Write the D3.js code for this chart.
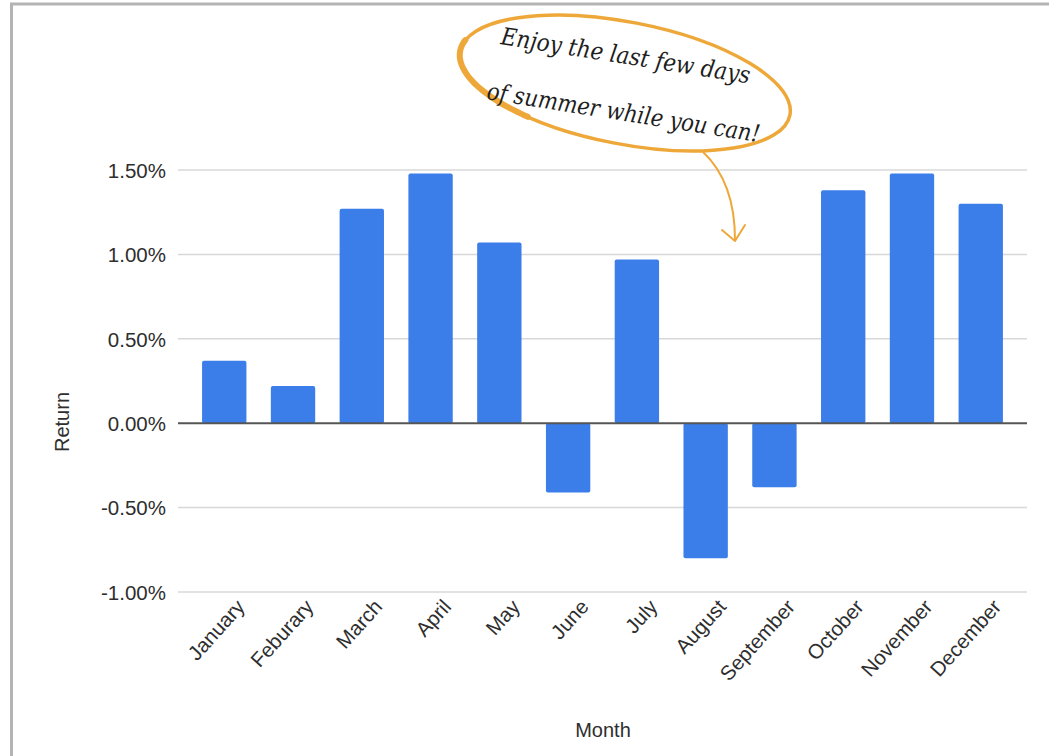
<!DOCTYPE html>
<html>
<head>
<meta charset="utf-8">
<script src="https://cdn.jsdelivr.net/npm/d3@7"></script>
<style>
  body { margin: 0; background: #fff; }
  svg { display: block; }
</style>
</head>
<body>
<svg id="chart" width="1049" height="756"></svg>
<script>
const months = ["January","Feburary","March","April","May","June","July","August","September","October","November","December"];
const returns = [0.37, 0.22, 1.27, 1.48, 1.07, -0.41, 0.97, -0.80, -0.38, 1.38, 1.48, 1.30];
const yTicks = [-1.0, -0.5, 0.0, 0.5, 1.0, 1.5];
const yTitle = "Return";
const xTitle = "Month";
const noteLines = ["Enjoy the last few days", "of summer while you can!"];

const svg = d3.select("#chart");
const W = 1049, H = 756;
const plotL = 178, plotR = 1027;
const font = "'Liberation Sans', Arial, Helvetica, sans-serif";
const orange = "#eea83a";

// frame (top & left edges visible)
svg.append("path").attr("d", `M11.5,${H} L11.5,4 L${W},4`)
  .attr("fill", "none").attr("stroke", "#b4b4b4").attr("stroke-width", 3);

const x = d3.scaleBand().domain(months).range([plotL, plotR]).paddingInner(0.355).paddingOuter(0.35);
const y = d3.scaleLinear().domain([-1.0, 1.5]).range([592, 170]);

// gridlines
svg.append("g").selectAll("line").data(yTicks.filter(d => d !== 0)).join("line")
  .attr("x1", plotL).attr("x2", plotR)
  .attr("y1", d => y(d)).attr("y2", d => y(d))
  .attr("stroke", "#d8d8d8").attr("stroke-width", 1.5);

// y axis labels
const fmt = d => (d < 0 ? "-" : "") + d3.format(".2f")(Math.abs(d)) + "%";
const yAxis = d3.axisLeft(y).tickValues(yTicks).tickSize(0).tickPadding(0).tickFormat(fmt);
const ya = svg.append("g").attr("transform", "translate(166,0)").call(yAxis);
ya.select(".domain").remove();
ya.selectAll("text").attr("font-family", font).attr("font-size", 20.5).attr("fill", "#2e2e2e")
  .attr("dy", "0.36em");

// bars
svg.append("g").selectAll("rect").data(returns).join("rect")
  .attr("x", (d, i) => x(months[i]))
  .attr("width", x.bandwidth())
  .attr("y", d => y(Math.max(0, d)))
  .attr("height", d => Math.abs(y(d) - y(0)))
  .attr("rx", 2)
  .attr("fill", "#3b7ee9");

// zero line
svg.append("line").attr("x1", plotL).attr("x2", plotR)
  .attr("y1", y(0)).attr("y2", y(0))
  .attr("stroke", "#555").attr("stroke-width", 2);

// x axis labels
const xAxis = d3.axisBottom(x).tickSize(0).tickPadding(0);
const xa = svg.append("g").attr("transform", "translate(0,600)").call(xAxis);
xa.select(".domain").remove();
xa.selectAll("text")
  .attr("font-family", font).attr("font-size", 20.5).attr("fill", "#2e2e2e")
  .attr("text-anchor", "end")
  .attr("dy", "0.7em")
  .attr("transform", "translate(11,-2) rotate(-48)");

// axis titles
svg.append("text").attr("x", 603).attr("y", 737).attr("text-anchor", "middle")
  .attr("font-family", font).attr("font-size", 20).attr("fill", "#2e2e2e").text(xTitle);
svg.append("text").attr("transform", "translate(69,422) rotate(-90)").attr("text-anchor", "middle")
  .attr("font-family", font).attr("font-size", 20).attr("fill", "#2e2e2e").text(yTitle);

// annotation
const ann = svg.append("g");
const ell = ann.append("g").attr("transform", "translate(625,83) rotate(11)");
ell.append("ellipse").attr("rx", 168).attr("ry", 61)
  .attr("fill", "none").attr("stroke", orange).attr("stroke-width", 3.5);
// thicker stroke along the lower-left side (hand-drawn feel)
const arcPts = d3.range(122, 192, 3).map(a => [168 * Math.cos(a * Math.PI / 180), 61 * Math.sin(a * Math.PI / 180)]);
ell.append("path").attr("d", d3.line().curve(d3.curveBasis)(arcPts))
  .attr("fill", "none").attr("stroke", orange).attr("stroke-width", 6).attr("stroke-linecap", "round");

ann.selectAll("text.note").data(noteLines).join("text").attr("class", "note")
  .attr("transform", (d, i) => i === 0 ? "translate(500,44) rotate(9)" : "translate(486,99) rotate(9)")
  .attr("textLength", (d, i) => i === 0 ? 252 : 276)
  .attr("lengthAdjust", "spacingAndGlyphs")
  .attr("font-family", "'DejaVu Serif', serif").attr("font-style", "italic")
  .attr("font-size", 24).attr("fill", "#1e1e1e").text(d => d);

ann.append("path").attr("d", "M703,152 Q735,182 735,240")
  .attr("fill", "none").attr("stroke", orange).attr("stroke-width", 2);
ann.append("path").attr("d", "M722,230 L735,241 L745,225")
  .attr("fill", "none").attr("stroke", orange).attr("stroke-width", 2)
  .attr("stroke-linejoin", "round").attr("stroke-linecap", "round");
</script>
</body>
</html>
